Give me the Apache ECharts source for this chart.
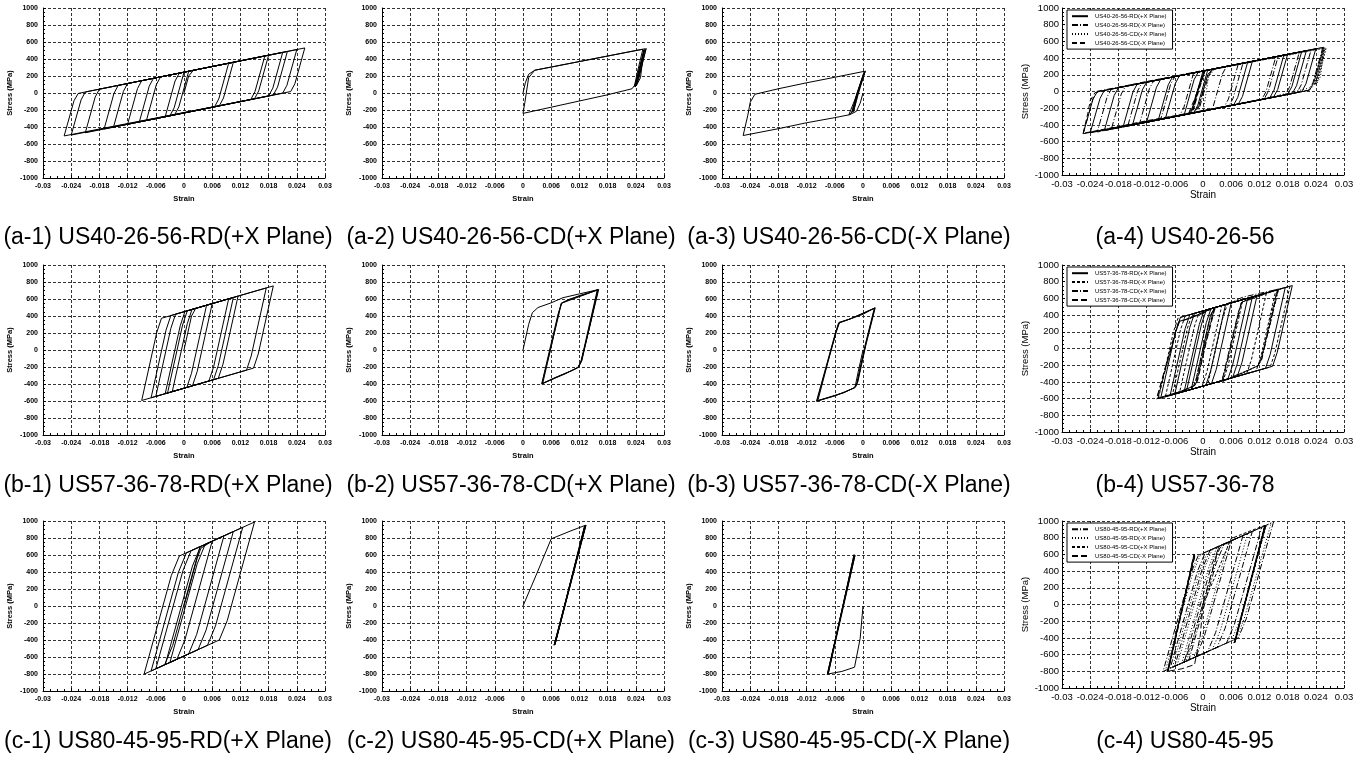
<!DOCTYPE html>
<html><head><meta charset="utf-8">
<script src="https://cdn.jsdelivr.net/npm/echarts@6/dist/echarts.min.js"></script>
<style>html,body{margin:0;padding:0;background:#fff}#c{width:1366px;height:762px}</style>
</head><body><div id="c"></div>
<script>
// ---------- tick labels ----------
const xTickLabels = ['-0.03','-0.024','-0.018','-0.012','-0.006','0','0.006','0.012','0.018','0.024','0.03'];
const yTickLabels = ['-1000','-800','-600','-400','-200','0','200','400','600','800','1000'];

// ---------- captions ----------
const captions = [
  '(a-1) US40-26-56-RD(+X Plane)','(a-2) US40-26-56-CD(+X Plane)','(a-3) US40-26-56-CD(-X Plane)','(a-4) US40-26-56',
  '(b-1) US57-36-78-RD(+X Plane)','(b-2) US57-36-78-CD(+X Plane)','(b-3) US57-36-78-CD(-X Plane)','(b-4) US57-36-78',
  '(c-1) US80-45-95-RD(+X Plane)','(c-2) US80-45-95-CD(+X Plane)','(c-3) US80-45-95-CD(-X Plane)','(c-4) US80-45-95'
];
const legendA = ['US40-26-56-RD(+X Plane)','US40-26-56-RD(-X Plane)','US40-26-56-CD(+X Plane)','US40-26-56-CD(-X Plane)'];
const legendB = ['US57-36-78-RD(+X Plane)','US57-36-78-RD(-X Plane)','US57-36-78-CD(+X Plane)','US57-36-78-CD(-X Plane)'];
const legendC = ['US80-45-95-RD(+X Plane)','US80-45-95-RD(-X Plane)','US80-45-95-CD(+X Plane)','US80-45-95-CD(-X Plane)'];

// ---------- series values: [strain, stress (MPa)] ----------
const a_RD_px = [
[0,0],[0.0010,200],[0.0020,267],[0.0105,361],
[0.0084,-59],[0.0075,-152],[-0.0095,-340],
[-0.0074,80],[-0.0065,173],[0.0172,436],
[0.0151,16],[0.0142,-77],[-0.0170,-424],
[-0.0149,-4],[-0.0140,89],[0.0180,445],
[0.0159,25],[0.0150,-68],[-0.0255,-505],
[-0.0234,-90],[-0.0225,-5],[0.0257,530],
[0.0236,110],[0.0227,17],[-0.0240,-495],
[-0.0219,-81],[-0.0210,12],[0,245],
[-0.0021,-175],[-0.0030,-268],[-0.0120,-368],
[-0.0099,52],[-0.0090,145],[0.0220,489],
[0.0199,69],[0.0190,-24],[-0.0210,-468],
[-0.0189,-48],[-0.0180,45],[0.0010,256],
[-0.0011,-164],[-0.0020,-257],[-0.0080,-324],
[-0.0059,96],[-0.0050,189],[0.0095,350],
[0.0074,-70],[0.0065,-163],[-0.0040,-279],
[-0.0019,141],[-0.0010,234],[0.0210,478],
[0.0189,58],[0.0180,-35],[-0.0150,-401],
[-0.0129,19],[-0.0120,112],[0.0240,511],
[0.0219,91],[0.0210,-2],[0,-235]
];
const a_RD_mx = [
[0,0],[-0.0010,-200],[-0.0020,-257],[-0.0090,-335],
[-0.0069,85],[-0.0060,178],[0.0155,417],
[0.0134,-3],[0.0125,-96],[-0.0135,-385],
[-0.0114,35],[-0.0105,128],[0.0205,472],
[0.0184,52],[0.0175,-41],[-0.0225,-485],
[-0.0204,-65],[-0.0195,28],[0.0255,528],
[0.0234,108],[0.0225,15],[-0.0255,-505],
[-0.0234,-85],[-0.0225,3],[-0.0020,223],
[-0.0041,-197],[-0.0050,-290],[-0.0160,-412],
[-0.0139,8],[-0.0130,101],[0.0075,328],
[0.0054,-92],[0.0045,-185],[-0.0010,-246],
[0.0011,174],[0.0020,267],[0.0230,500],
[0.0209,80],[0.0200,-13],[0.0020,-213],
[0.0041,207],[0.0050,300],[0.0160,422],
[0.0139,2],[0.0130,-91],[-0.0195,-451],
[-0.0174,-31],[-0.0165,62],[0.0085,339],
[0.0064,-81],[0.0055,-174],[0,-235]
];
const a_CD_px = [
[0,0],[0.0005,120],[0.0012,220],[0.0025,268],[0.0060,305],[0.0120,370],[0.0180,435],[0.0240,500],[0.0260,520],
[0.0248,290],[0.0240,110],[0.0232,50],[0.0180,-21],[0.0120,-94],[0.0060,-167],[0,-240],
[0.0004,-110],[0.0012,180],[0.0025,268],[0.0120,370],[0.0255,515],
[0.0244,260],[0.0237,80],[0.0244,150],[0.0258,510],
[0.0245,240],[0.0238,75],[0.0246,160],[0.0262,525],
[0.0249,250],[0.0241,85],[0.0250,180],[0.0257,505],
[0.0246,230],[0.0239,70]
];
const a_CD_mx = [
[0,0],[-0.0006,-120],[-0.0014,-215],[-0.0028,-255],[-0.0060,-290],[-0.0120,-350],[-0.0180,-420],[-0.0255,-500],
[-0.0245,-260],[-0.0240,-110],[-0.0230,-15],[-0.0180,50],[-0.0120,120],[-0.0060,185],[0.0003,255],
[-0.0012,-20],[-0.0022,-220],[-0.0030,-255],[-0.0016,-60],[0.0002,240],
[-0.0013,-10],[-0.0024,-230],[-0.0014,-40],[0.0005,260],
[-0.0010,20],[-0.0020,-215],[-0.0011,-30],[0.0004,250],
[-0.0012,0],[-0.0021,-225]
];

const b_RD_px = [
[0,0],[0.0016,400],[0.0025,490],[0.0060,546],
[0.0028,-254],[0.0018,-421],[-0.0035,-506],
[-0.0003,294],[0.0007,461],[0.0095,602],
[0.0063,-198],[0.0053,-365],[-0.0060,-546],
[-0.0028,254],[-0.0018,421],[0.0105,618],
[0.0073,-182],[0.0063,-349],[-0.0090,-594],
[-0.0058,206],[-0.0048,373],[0.0190,754],
[0.0158,-46],[0.0148,-213],[-0.0040,-514],
[-0.0008,286],[0.0002,453],[0.0115,634],
[0.0083,-166],[0.0073,-333],[-0.0025,-490],
[0.0007,310],[0.0017,477],[0.0048,527],
[0.0016,-273],[0.0006,-440],[-0.0070,-562],
[-0.0038,238],[-0.0028,405],[0.0175,730],
[0.0143,-70],[0.0133,-237],[0.0050,-370]
];
const b_RD_mx = [
[0,0],[-0.0016,-400],[-0.0025,-490],[-0.0080,-578],
[-0.0048,222],[-0.0038,389],[0.0040,514],
[0.0008,-286],[-0.0002,-453],[-0.0095,-602],
[-0.0063,198],[-0.0053,365],[0.0135,666],
[0.0103,-134],[0.0093,-301],[-0.0050,-530],
[-0.0018,270],[-0.0008,437],[0.0185,746],
[0.0153,-54],[0.0143,-221],[0.0010,-434],
[0.0042,366],[0.0052,533],[0.0155,698],
[0.0123,-102],[0.0113,-269],[-0.0065,-554],
[-0.0033,246],[-0.0023,413],[0.0085,586],
[0.0053,-214],[0.0043,-381],[-0.0010,-466]
];
const b_CD_px = [
[0,0],[0.0012,300],[0.0020,440],[0.0032,500],[0.0060,555],[0.0085,615],[0.0120,660],[0.0160,710],
[0.0140,240],[0.0125,-130],[0.0117,-205],[0.0105,-240],[0.0070,-320],[0.0040,-397],
[0.0060,80],[0.0075,430],[0.0082,552],[0.0100,600],[0.0130,650],[0.0158,705],
[0.0139,245],[0.0124,-125],[0.0118,-200],[0.0090,-280],[0.0042,-392],
[0.0062,85],[0.0076,440],[0.0083,556],[0.0120,640],[0.0161,712],
[0.0141,250],[0.0123,-140],[0.0116,-212],[0.0080,-300],[0.0040,-400],
[0.0061,70],[0.0077,435],[0.0081,548],[0.0159,708],
[0.0140,235],[0.0125,-120],[0.0118,-205]
];
const b_CD_mx = [
[0,0],[-0.0010,-250],[-0.0017,-440],[-0.0040,-500],[-0.0070,-555],[-0.0098,-600],
[-0.0075,-140],[-0.0058,200],[-0.0050,320],[-0.0030,360],[0,420],[0.0025,495],
[0.0005,50],[-0.0012,-380],[-0.0017,-440],[-0.0040,-500],[-0.0096,-595],
[-0.0074,-130],[-0.0057,210],[-0.0051,325],[-0.0025,370],[0.0024,490],
[0.0004,45],[-0.0013,-385],[-0.0018,-445],[-0.0060,-540],[-0.0099,-603],
[-0.0076,-145],[-0.0059,195],[-0.0052,318],[-0.0030,360],[0.0026,497],
[0.0006,55],[-0.0011,-375],[-0.0016,-438]
];

const c_RD_px = [
[0,0],[0.0028,560],[0.0036,680],[0.0060,763],
[0.0002,-397],[-0.0015,-626],[-0.0040,-690],
[0.0018,470],[0.0035,698],[0.0105,876],
[0.0047,-284],[0.0030,-513],[-0.0085,-802],
[-0.0027,358],[-0.0010,588],[0.0150,988],
[0.0092,-172],[0.0075,-400],[-0.0060,-740],
[-0.0002,420],[0.0015,650],[0.0034,698],
[-0.0024,-462],[-0.0041,-690],[-0.0070,-765],
[-0.0012,395],[0.0005,625],[0.0125,926],
[0.0067,-234],[0.0050,-462],[-0.0030,-665],
[0.0028,495],[0.0045,725],[0.0085,826],
[0.0027,-334],[0.0010,-563],[-0.0055,-727]
];
const c_RD_mx = [
[0,0],[-0.0028,-560],[-0.0036,-680],[-0.0055,-727],
[0.0003,433],[0.0020,663],[0.0055,751],
[-0.0003,-409],[-0.0020,-637],[-0.0080,-790],
[-0.0022,370],[-0.0005,600],[0.0135,951],
[0.0077,-209],[0.0060,-437],[-0.0045,-702],
[0.0013,458],[0.0030,688],[0.0095,851],
[0.0037,-309],[0.0020,-537],[-0.0065,-752],
[-0.0007,408],[0.0010,638],[0.0145,976],
[0.0087,-184],[0.0070,-412],[-0.0020,-640]
];
const c_CD_px = [
[0,0],[0.0030,390],[0.0060,790],[0.0100,880],[0.0133,950],
[0.0067,-460],[0.0132,945],[0.0068,-455],[0.0134,952],
[0.0066,-462],[0.0133,948],[0.0068,-450],[0.0131,940],[0.0067,-458]
];
const c_CD_mx = [
[0,0],[-0.0006,-380],[-0.0018,-720],[-0.0045,-770],[-0.0075,-800],
[-0.0018,600],[-0.0076,-805],[-0.0017,595],[-0.0074,-798],[-0.0019,605],[-0.0075,-800]
];

// ---------- layout ----------
const FONT = 'Liberation Sans';
const colLeft = [43, 382, 722, 1062];
const rowTop = [8, 265, 521];
const W = 282, H = 170;
const capX = [168, 511, 849, 1185];
const capY = [238, 486, 742];

const rows = [
  {single: [a_RD_px, a_CD_px, a_CD_mx], all: [a_RD_px, a_RD_mx, a_CD_px, a_CD_mx], names: legendA,
   dash: ['solid', [6,2,1,2], [1,2], [5,3]]},
  {single: [b_RD_px, b_CD_px, b_CD_mx], all: [b_RD_px, b_RD_mx, b_CD_px, b_CD_mx], names: legendB,
   dash: ['solid', [3,2], [6,2,1,2], [6,3]]},
  {single: [c_RD_px, c_CD_px, c_CD_mx], all: [c_RD_px, c_RD_mx, c_CD_px, c_CD_mx], names: legendC,
   dash: [[6,2,1,2], [1,2], [3,2], [6,3]]}
];

const grid = [], xAxis = [], yAxis = [], series = [], legend = [], graphic = [];
const gridLine = {color: '#333', type: [3, 2], width: 1};

for (let r = 0; r < 3; r++) {
  for (let c = 0; c < 4; c++) {
    const gi = r * 4 + c;
    const big = c === 3;
    grid.push({left: colLeft[c], top: rowTop[r], width: W, height: big ? 167 : H});
    const lab = {fontFamily: FONT, fontSize: big ? 9.5 : 7, fontWeight: big ? 'normal' : 'bold', color: '#000'};
    xAxis.push({
      type: 'value', gridIndex: gi, min: -0.03, max: 0.03, interval: 0.006,
      name: 'Strain', nameLocation: 'middle', nameGap: big ? 15 : 17,
      nameTextStyle: {fontFamily: FONT, fontSize: big ? 10 : 7.5, fontWeight: big ? 'normal' : 'bold', color: '#000'},
      axisLine: {show: true, onZero: false, lineStyle: {color: '#000', width: 1}},
      axisTick: {show: true, inside: true, length: 3, lineStyle: {color: '#000'}},
      minorTick: {show: true, splitNumber: 4, length: 2, lineStyle: {color: '#000'}},
      splitLine: {show: true, lineStyle: gridLine},
      axisLabel: Object.assign({margin: big ? 4 : 5, formatter: v => xTickLabels[Math.round((v + 0.03) / 0.006)]}, lab)
    });
    yAxis.push({
      type: 'value', gridIndex: gi, min: -1000, max: 1000, interval: 200,
      name: 'Stress (MPa)', nameLocation: 'middle', nameGap: big ? 28 : 29, nameRotate: 90,
      nameTextStyle: {fontFamily: FONT, fontSize: big ? 9.5 : 7.5, fontWeight: big ? 'normal' : 'bold', color: '#000'},
      axisLine: {show: true, onZero: false, lineStyle: {color: '#000', width: 1}},
      axisTick: {show: true, inside: true, length: 3, lineStyle: {color: '#000'}},
      minorTick: {show: true, splitNumber: 4, length: 2, lineStyle: {color: '#000'}},
      splitLine: {show: true, lineStyle: gridLine},
      axisLabel: Object.assign({margin: big ? 3 : 5, formatter: v => yTickLabels[Math.round((v + 1000) / 200)]}, lab)
    });
    const R = rows[r];
    if (!big) {
      series.push({
        type: 'line', name: 'p' + gi, xAxisIndex: gi, yAxisIndex: gi, data: R.single[c],
        showSymbol: false, symbol: 'none', silent: true,
        lineStyle: {color: '#000', width: 1}
      });
    } else {
      for (let k = 0; k < 4; k++) {
        series.push({
          type: 'line', name: R.names[k], xAxisIndex: gi, yAxisIndex: gi, data: R.all[k],
          showSymbol: false, symbol: 'none', silent: true,
          lineStyle: {color: '#000', width: 1, type: R.dash[k]}
        });
      }
      legend.push({
        data: R.names, orient: 'vertical', left: colLeft[c] + 5, top: rowTop[r] + 2,
        itemWidth: 16, itemHeight: 8, itemGap: 2.5, padding: [3, 6, 3, 4],
        borderColor: '#000', borderWidth: 1, backgroundColor: '#fff', selectedMode: false,
        textStyle: {fontFamily: FONT, fontSize: 6, color: '#000', padding: [0, 0, 0, 2]},
        itemStyle: {opacity: 0}
      });
    }
    graphic.push({
      type: 'text', x: capX[c], y: capY[r],
      style: {text: captions[gi], fill: '#000', font: '23px "' + FONT + '"', textAlign: 'center', textVerticalAlign: 'middle'}
    });
  }
}

const chart = echarts.init(document.getElementById('c'), null, {renderer: 'canvas'});
chart.setOption({
  animation: false, backgroundColor: '#fff',
  grid, xAxis, yAxis, series, legend, graphic
});
</script>
</body></html>
